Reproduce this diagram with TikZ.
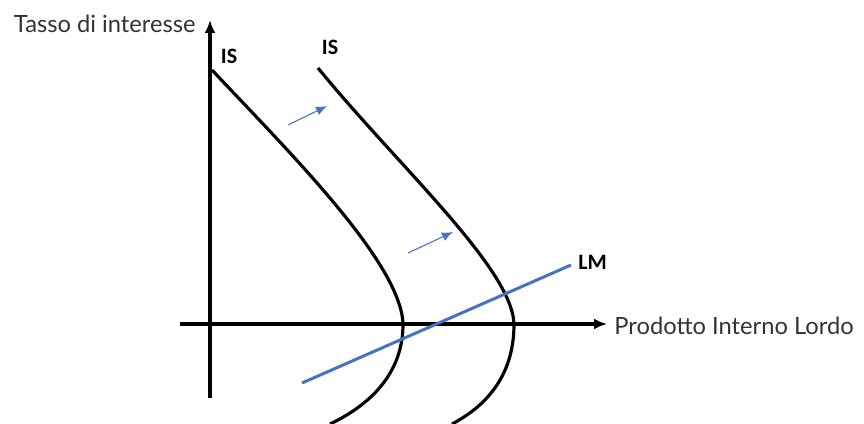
\documentclass[tikz,border=0pt]{standalone}
\usepackage{fontspec}
\setmainfont{Lato}
\newfontfamily\labelfont{Carlito}
\usetikzlibrary{arrows.meta,positioning}
\definecolor{lmblue}{HTML}{4472C4}

\begin{document}
\begin{tikzpicture}[x=0.02cm,y=-0.02cm,>=Latex,
  axis/.style={line width=1.8pt,-{Latex[length=2.6mm,width=2.2mm]}},
  iscurve/.style={line width=1.8pt},
  shift arrow/.style={draw=lmblue,line width=0.6pt,-{Latex[length=2.2mm,width=1.8mm]}},
  axis label/.style={font=\fontsize{13.5}{15}\selectfont,text=black!80,inner sep=0pt},
  curve label/.style={font=\labelfont\bfseries\fontsize{12.5}{14}\selectfont,inner sep=0pt}]
\useasboundingbox (0,0) rectangle (864,423);
% axes
\coordinate (o) at (210,324);
\coordinate (ybot) at (210,398);
\coordinate (ytop) at (210,20);
\coordinate (xleft) at (180,324);
\coordinate (xright) at (607,324);
\draw[axis] (ybot) -- (ytop);
\draw[axis] (xleft) -- (xright);
\node[axis label,anchor=east] (ylab) at (196,24) {Tasso di interesse};
\node[axis label,anchor=west] (xlab) at (614,326) {Prodotto Interno Lordo};
% IS curves
\coordinate (is1top) at (212,70);
\coordinate (is1v) at (403,324);
\coordinate (is1bot) at (330,424);
\draw[iscurve] (is1top) .. controls (285,148) and (401,262) .. (is1v)
  .. controls (403,372) and (372,404) .. (is1bot);
\coordinate (is2top) at (318,68);
\coordinate (is2v) at (514,324);
\coordinate (is2bot) at (452,424);
\draw[iscurve] (is2top) .. controls (398,166) and (512,268) .. (is2v)
  .. controls (514,372) and (490,404) .. (is2bot);
\node[curve label] (is1) at (229,56) {IS};
\node[curve label] (is2) at (330,47) {IS};
% LM line
\coordinate (lmstart) at (302,383);
\coordinate (lmend) at (571,265);
\draw[lmblue,line width=1.7pt] (lmstart) -- (lmend);
\node[curve label,anchor=west] (lm) at (578,262) {LM};
% shift arrows
\coordinate (s1a) at (288,125);
\coordinate (s1b) at (327,106);
\coordinate (s2a) at (408,253);
\coordinate (s2b) at (453,232);
\draw[shift arrow] (s1a) -- (s1b);
\draw[shift arrow] (s2a) -- (s2b);
\end{tikzpicture}
\end{document}
